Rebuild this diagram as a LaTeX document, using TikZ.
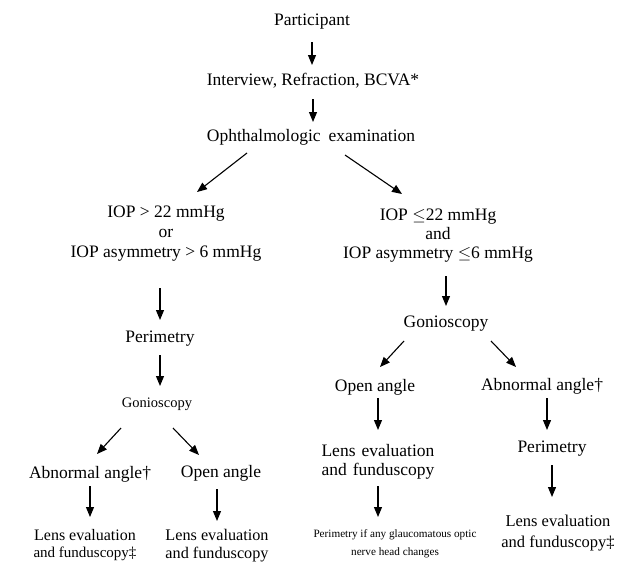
\documentclass[tikz,border=0pt]{standalone}
\usepackage{fontspec}
\setmainfont{Liberation Serif}
\usetikzlibrary{arrows.meta}
\newcommand{\fsz}[2]{\fontsize{#1}{#2}\selectfont}

\begin{document}
\begin{tikzpicture}[x=1pt,y=-1pt,
		every node/.style={lbl},
		lbl/.style={inner sep=0pt,align=center,font=\fsz{17.5}{20}},
		flow/.style={-{Triangle[length=10pt,width=8pt]},line width=1.1pt}]
	\useasboundingbox (0,0) rectangle (617,562);

	\node (part)   at (312,22)  {Participant};
	\node (intv)   at (313,81)  {Interview, Refraction, BCVA*};
	\node (ophth)  at (311,137) {Ophthalmologic\hspace{8pt}examination};
	\node (iopL)   at (166,234) {IOP > 22 mmHg\\or\\IOP asymmetry > 6 mmHg};
	\node (iopR)   at (438,236) [font=\fsz{17.5}{19}] {IOP $\leq$22 mmHg\\and\\IOP asymmetry $\leq$6 mmHg};
	\node (perimL) at (160,339) {Perimetry};
	\node (gonioL) at (157,404) [font=\fsz{14.5}{16}] {Gonioscopy};
	\node (abnL)   at (90,474)  {Abnormal angle\dag};
	\node (openL)  at (221,473) {Open angle};
	\node (lensL)  at (85,545)  [font=\fsz{16}{17}] {Lens evaluation\\{\fsz{15}{17}and funduscopy\ddag}};
	\node (lensM)  at (217,546) [font=\fsz{16.2}{18}] {Lens evaluation\\and funduscopy};
	\node (gonioR) at (446,324) {Gonioscopy};
	\node (openR)  at (375,387) {Open angle};
	\node (abnR)   at (542,386) {Abnormal angle\dag};
	\node (lensR)  at (378,462) [font=\fsz{17.5}{19}] {Lens\hspace{6pt}evaluation\\and\hspace{6pt}funduscopy};
	\node (perimR) at (552,449) {Perimetry};
	\node (checkR) at (395,544) [font=\fsz{11.2}{18}] {Perimetry if any glaucomatous optic\\nerve head changes};
	\node (lensRR) at (558,533) [font=\fsz{16.5}{21}] {Lens evaluation\\and funduscopy\ddag};

	% main trunk
	\draw[flow,shorten <=20pt,shorten >=16pt] (part.center) -- (part |- intv);
	\draw[flow,shorten <=18pt,shorten >=15pt] (intv.center) -- (intv |- ophth);
	\draw[flow] ([xshift=-64pt,yshift=-16pt]ophth.center) -- ([xshift=31pt,yshift=42pt]iopL.center);
	\draw[flow] ([xshift=34pt,yshift=-18pt]ophth.center) -- ([xshift=-36pt,yshift=42pt]iopR.center);

	% left branch
	\draw[flow,shorten <=54pt,shorten >=19pt] (iopL -| perimL) -- (perimL.center);
	\draw[flow,shorten <=16pt,shorten >=18pt] (perimL.center) -- (perimL |- gonioL);
	\draw[flow] ([xshift=-36pt,yshift=-24pt]gonioL.center) -- ([xshift=7pt,yshift=20pt]abnL.center);
	\draw[flow] ([xshift=16pt,yshift=-24pt]gonioL.center) -- ([xshift=-22pt,yshift=18pt]openL.center);
	\draw[flow,shorten <=12pt,shorten >=28pt] (abnL.center) -- (abnL |- lensL);
	\draw[flow,shorten <=16pt,shorten >=25pt] (lensM |- openL) -- (lensM.center);

	% right branch
	\draw[flow,shorten <=40pt,shorten >=18pt] (iopR -| gonioR) -- (gonioR.center);
	\draw[flow] ([xshift=-42pt,yshift=-17pt]gonioR.center) -- ([xshift=5pt,yshift=20pt]openR.center);
	\draw[flow] ([xshift=45pt,yshift=-17pt]gonioR.center) -- ([xshift=-26pt,yshift=19pt]abnR.center);
	\draw[flow,shorten <=11pt,shorten >=32pt] (lensR |- openR) -- (lensR.center);
	\draw[flow,shorten <=12pt,shorten >=19pt] ([xshift=5pt]abnR.center) -- ([xshift=-5pt]perimR.center);
	\draw[flow,shorten <=24pt,shorten >=27pt] (lensR.center) -- (lensR |- checkR);
	\draw[flow,shorten <=16pt,shorten >=36pt] (perimR.center) -- (perimR |- lensRR);
\end{tikzpicture}
\end{document}
